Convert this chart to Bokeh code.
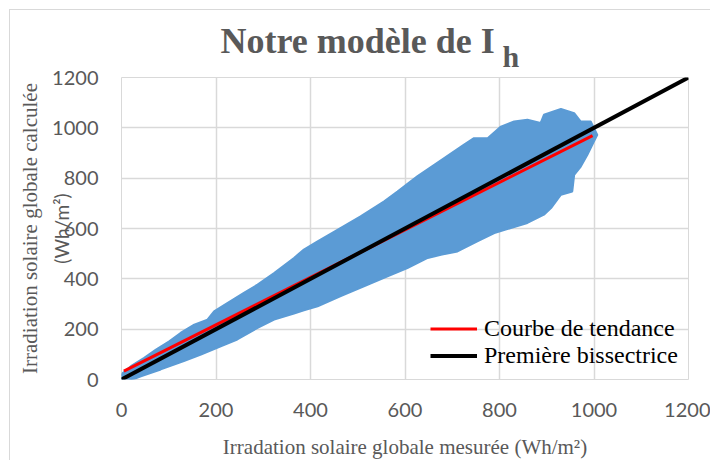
import math
from bokeh.plotting import figure
from bokeh.models import Range1d, Legend, LegendItem, FixedTicker, LinearAxis, Title
from bokeh.embed import file_html
from bokeh.resources import INLINE

# ---- data ----
x_ticks = [0, 200, 400, 600, 800, 1000, 1200]
y_ticks = [0, 200, 400, 600, 800, 1000, 1200]

# outline of the dense cloud of measured / calculated points
cloud_upper_x = [-5, 20, 48, 73, 101, 125, 154, 182, 196, 224, 259, 288, 323, 365, 386, 415, 457,
                 506, 556, 584, 626, 683, 725, 746, 775, 803, 831, 859, 887, 894, 930, 958, 972, 993, 1007]
cloud_upper_y = [13, 53, 86, 119, 152, 185, 218, 238, 271, 304, 344, 377, 423, 483, 516, 549, 595,
                 648, 708, 747, 807, 880, 933, 959, 959, 1005, 1025, 1032, 1019, 1052, 1075, 1058, 1025, 1025, 972]
cloud_lower_x = [6, 41, 83, 132, 168, 210, 245, 288, 323, 365, 386, 415, 464, 513, 563, 605, 648,
                 676, 711, 753, 789, 824, 859, 894, 909, 930, 954, 958, 972, 986, 1000]
cloud_lower_y = [-13, 13, 40, 73, 99, 132, 159, 205, 238, 262, 275, 291, 331, 370, 410, 443, 483,
                 496, 509, 549, 582, 602, 622, 655, 681, 734, 747, 813, 846, 893, 946]

trend_x = [5, 997]
trend_y = [33, 969]
bisector_x = [0, 1200]
bisector_y = [0, 1200]

BLUE = "#5B9BD5"
GRID = "#D9D9D9"
GRAY = "#595959"

p = figure(frame_width=567, frame_height=302,
           x_range=Range1d(0, 1200), y_range=Range1d(0, 1200),
           output_backend="svg", toolbar_location=None,
           min_border_left=111, min_border_right=22, min_border_top=67, min_border_bottom=76)
p.styles = {"margin-left": "9px", "margin-top": "9px",
            "border-left": "1px solid #D9D9D9", "border-top": "1px solid #D9D9D9"}
p.outline_line_color = GRID

for ax, ticks in ((p.xaxis[0], x_ticks), (p.yaxis[0], y_ticks)):
    ax.ticker = FixedTicker(ticks=ticks)
    ax.axis_line_color = None
    ax.major_tick_line_color = None
    ax.minor_tick_line_color = None
    ax.major_tick_out = 0
    ax.major_label_text_font = "Lato"
    ax.major_label_text_font_size = "20px"
    ax.major_label_text_color = GRAY
p.xaxis.major_label_standoff = 23
p.yaxis.major_label_standoff = 23
p.xgrid.grid_line_color = GRID
p.ygrid.grid_line_color = GRID
p.grid.grid_line_width = 1.5

# x axis title
p.xaxis.axis_label = "Irradation solaire globale mesurée (Wh/m²)"
p.xaxis.axis_label_text_font = "Liberation Serif"
p.xaxis.axis_label_text_font_style = "normal"
p.xaxis.axis_label_text_font_size = "21px"
p.xaxis.axis_label_text_color = GRAY
p.xaxis.axis_label_standoff = 15

# y axis title: inner line (units, sans) on the tick axis, outer line on an extra axis
p.yaxis.axis_label = "(Wh/m²)"
p.yaxis.axis_label_text_font = "Lato"
p.yaxis.axis_label_text_font_style = "normal"
p.yaxis.axis_label_text_font_size = "19px"
p.yaxis.axis_label_text_color = GRAY
p.yaxis.axis_label_standoff = -24

outer = LinearAxis(ticker=FixedTicker(ticks=[]), axis_label="Irradiation solaire globale calculée",
                   axis_label_text_font="Liberation Serif", axis_label_text_font_style="normal",
                   axis_label_text_font_size="21px", axis_label_text_color=GRAY,
                   axis_label_standoff=6, axis_line_color=None, major_tick_line_color=None,
                   minor_tick_line_color=None, major_tick_out=0, major_label_standoff=0)
p.add_layout(outer, "left")

# cloud
px = cloud_upper_x + cloud_lower_x[::-1]
py = cloud_upper_y + cloud_lower_y[::-1]
p.patch(px, py, fill_color=BLUE, line_color=BLUE, line_width=2)

r_trend = p.line(trend_x, trend_y, line_color="red", line_width=3)
r_bis = p.line(bisector_x, bisector_y, line_color="black", line_width=4)

legend = Legend(items=[LegendItem(label="Courbe de tendance", renderers=[r_trend]),
                       LegendItem(label="Première bissectrice", renderers=[r_bis])],
                location=(309, 10), padding=0, margin=0, spacing=0,
                glyph_width=47, glyph_height=27, label_height=27, label_standoff=7,
                label_text_font="Liberation Serif", label_text_font_size="24px",
                label_text_color="black", background_fill_alpha=0, border_line_color=None)
p.add_layout(legend, "center")

# title "Notre modèle de I" with subscript "h"
p.title.text = "Notre modèle de I"
p.title.text_font = "Liberation Serif"
p.title.text_font_style = "bold"
p.title.text_font_size = "36px"
p.title.text_color = GRAY
p.title.align = "left"
p.title.offset = 99
p.title.standoff = -56
sub = Title(text="h", align="left", offset=381, standoff=10, text_font="Liberation Serif",
            text_font_style="bold", text_font_size="30px", text_color=GRAY)
p.add_layout(sub, "above")

open("out.html", "w").write(file_html(p, INLINE))
